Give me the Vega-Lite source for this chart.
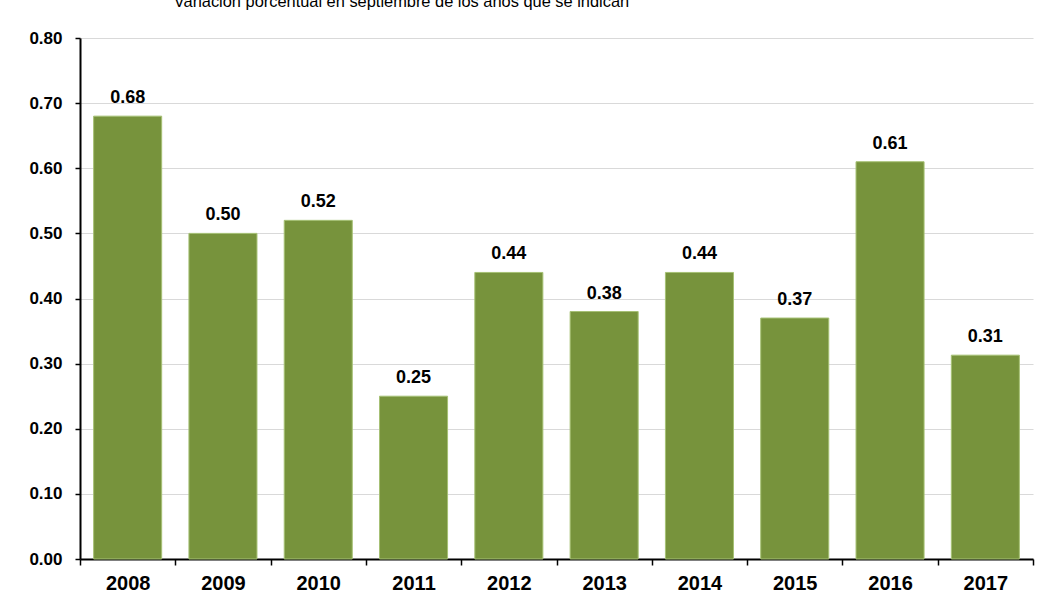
{
  "$schema": "https://vega.github.io/schema/vega-lite/v6.json",
  "width": 953,
  "height": 521,
  "autosize": "none",
  "padding": {"left": 80, "top": 38, "right": 19, "bottom": 49},
  "background": "white",
  "config": {"view": {"stroke": null}},
  "title": {
    "text": "Variación porcentual en septiembre de los años que se indican",
    "font": "Liberation Sans",
    "fontSize": 16.4,
    "fontWeight": "normal",
    "color": "black",
    "anchor": "middle",
    "dx": -155,
    "dy": 10,
    "baseline": "alphabetic",
    "offset": 16
  },
  "data": {
    "values": [
      {"year": "2008", "value": 0.68},
      {"year": "2009", "value": 0.50},
      {"year": "2010", "value": 0.52},
      {"year": "2011", "value": 0.25},
      {"year": "2012", "value": 0.44},
      {"year": "2013", "value": 0.38},
      {"year": "2014", "value": 0.44},
      {"year": "2015", "value": 0.37},
      {"year": "2016", "value": 0.61},
      {"year": "2017", "value": 0.313}
    ]
  },
  "encoding": {
    "x": {
      "field": "year",
      "type": "ordinal",
      "scale": {"paddingInner": 0, "paddingOuter": 0},
      "axis": {
        "title": null,
        "labelAngle": 0,
        "tickBand": "extent",
        "domainColor": "black",
        "domainWidth": 2,
        "tickColor": "black",
        "tickWidth": 1.5,
        "tickSize": 6,
        "labelFont": "Liberation Sans",
        "labelFontSize": 20,
        "labelFontWeight": "bold",
        "labelColor": "black",
        "labelPadding": 8,
        "grid": false
      }
    },
    "y": {
      "field": "value",
      "type": "quantitative",
      "scale": {"domain": [0, 0.8], "nice": false},
      "axis": {
        "title": null,
        "values": [0, 0.1, 0.2, 0.3, 0.4, 0.5, 0.6, 0.7, 0.8],
        "format": ".2f",
        "grid": true,
        "gridColor": "#d9d9d9",
        "gridWidth": 1,
        "domainColor": "black",
        "domainWidth": 2,
        "tickColor": "black",
        "tickWidth": 1.5,
        "tickSize": 5,
        "labelFont": "Liberation Sans",
        "labelFontSize": 17,
        "labelFontWeight": "bold",
        "labelColor": "black",
        "labelPadding": 13
      }
    }
  },
  "layer": [
    {
      "mark": {"type": "bar", "color": "#77933C", "width": {"band": 0.714}, "stroke": "#a6c174", "strokeWidth": 1}
    },
    {
      "mark": {"type": "text", "baseline": "bottom", "dy": -9, "font": "Liberation Sans", "fontSize": 18, "fontWeight": "bold", "color": "black"},
      "encoding": {"text": {"field": "value", "type": "quantitative", "format": ".2f"}}
    }
  ]
}
